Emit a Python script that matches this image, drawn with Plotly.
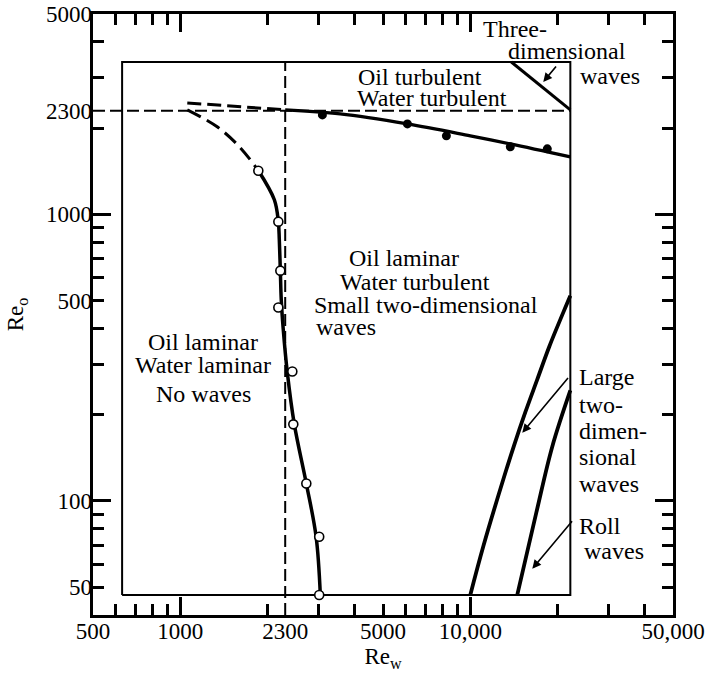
import math
import plotly.graph_objects as go

# ---------------- axis data ----------------
x_range = [500, 50000]
y_range = [40, 5000]

x_tick_vals = [500, 1000, 2300, 5000, 10000, 50000]
x_tick_text = ["500", "1000", "2300", "5000", "10,000", "50,000"]
x_major_marks = [1000, 10000]
x_minor_marks = [600, 700, 800, 900, 2000, 3000, 4000, 5000, 6000, 7000, 8000, 9000,
                 20000, 30000, 40000]

y_tick_vals = [50, 100, 500, 1000, 2300, 5000]
y_tick_text = ["50", "100", "500", "1000", "2300", "5000"]
y_major_marks = [100, 1000]
y_minor_marks = [50, 60, 70, 80, 90, 200, 300, 400, 500, 600, 700, 800, 900,
                 2000, 3000, 4000]

# ---------------- chart data ----------------
box_re_w = [630, 22130, 22130, 630, 630]
box_re_o = [47, 47, 3400, 3400, 47]

crit_re = 2300
vline_re_o = [40, 3400]
hline_re_w = [500, 22130]

# oil laminar / turbulent transition (upper curve)
oil_turb_dash_w = [1057, 2300]
oil_turb_dash_o = [2448, 2315]
oil_turb_w = [2300, 3560, 6070, 10000, 13740, 22130]
oil_turb_o = [2315, 2242, 2068, 1879, 1762, 1587]
oil_turb_pts_w = [3090, 6070, 8270, 13740, 18430]
oil_turb_pts_o = [2223, 2068, 1879, 1720, 1692]

# water laminar / turbulent transition
water_dash_w = [1057, 1340, 1600, 1860]
water_dash_o = [2315, 2020, 1720, 1420]
water_w = [1860, 2110, 2178, 2195, 2213, 2229, 2265, 2337, 2473, 2720, 2940, 3040]
water_o = [1420, 1124, 943, 816, 636, 504, 396, 283, 185, 115, 75, 47]
water_pts_w = [1858, 2178, 2213, 2178, 2434, 2453, 2720, 3013, 3013]
water_pts_o = [1419, 943, 636, 473, 283, 185, 115, 75, 47]

# three-dimensional waves boundary
three_d_w = [13850, 22130]
three_d_o = [3400, 2315]

# large two-dimensional waves boundary
large_w = [10000, 11090, 13000, 14150, 15480, 17010, 18730, 20910, 22130]
large_o = [47, 69.5, 119, 156, 204, 265, 346, 454, 520]

# roll waves boundary
roll_w = [14520, 16890, 19180, 22130]
roll_o = [47, 91, 155, 243]

# ---------------- labels ----------------
region_labels = [
    ("Oil turbulent", 6724, 3017, "center"),
    ("Water turbulent", 7396, 2549, "center"),
    ("Three-", 14300, 4450, "center"),
    ("dimensional", 21600, 3721, "center"),
    ("waves", 30390, 3041, "center"),
    ("Oil laminar", 5921, 706, "center"),
    ("Water turbulent", 6460, 582, "center"),
    ("Small two-dimensional", 7052, 484, "center"),
    ("waves", 3737, 403, "center"),
    ("Oil laminar", 1200, 360, "center"),
    ("Water laminar", 1200, 299, "center"),
    ("No waves", 1205, 237, "center"),
    ("Large", 23390, 270, "left"),
    ("two-", 23390, 217, "left"),
    ("dimen-", 23390, 176, "left"),
    ("sional", 23390, 142, "left"),
    ("waves", 23390, 115, "left"),
    ("Roll", 23390, 82, "left"),
    ("waves", 24200, 66.7, "left"),
]

# arrows: (tail_w, tail_o, head_w, head_o)
arrows = [
    (19950, 3322, 17850, 2898),
    (21940, 272, 15110, 173),
    (22660, 86, 16360, 58),
]

FONT = "Liberation Serif"
L = math.log10

fig = go.Figure()

def line(xs, ys, width, dash="solid", shape="linear"):
    fig.add_trace(go.Scatter(x=xs, y=ys, mode="lines",
                             line=dict(color="black", width=width, dash=dash, shape=shape),
                             hoverinfo="skip", showlegend=False))

line(box_re_w, box_re_o, 2)
line([crit_re, crit_re], vline_re_o, 2, dash="12px,5px")
line(hline_re_w, [crit_re, crit_re], 2, dash="12px,5px")
line(oil_turb_dash_w, oil_turb_dash_o, 3, dash="14px,6px")
line(oil_turb_w, oil_turb_o, 3.2, shape="spline")
line(water_dash_w, water_dash_o, 3, dash="15px,7px", shape="spline")
line(water_w, water_o, 3.5, shape="spline")
line(three_d_w, three_d_o, 3)
line(large_w, large_o, 3.8, shape="spline")
line(roll_w, roll_o, 3.8, shape="spline")

fig.add_trace(go.Scatter(x=water_pts_w, y=water_pts_o, mode="markers",
                         marker=dict(symbol="circle", size=9, color="white",
                                     line=dict(color="black", width=1.6)),
                         hoverinfo="skip", showlegend=False))
fig.add_trace(go.Scatter(x=oil_turb_pts_w, y=oil_turb_pts_o, mode="markers",
                         marker=dict(symbol="circle", size=9, color="black"),
                         hoverinfo="skip", showlegend=False))

# invisible trace on label axes
fig.add_trace(go.Scatter(x=[x_tick_vals[1]], y=[y_tick_vals[1]], mode="markers",
                         marker=dict(opacity=0), xaxis="x2", yaxis="y2",
                         hoverinfo="skip", showlegend=False))

annotations = []
for text, xw, yo, align in region_labels:
    annotations.append(dict(x=L(xw), y=L(yo), xref="x", yref="y", text=text,
                            showarrow=False, xanchor=align, yanchor="middle",
                            font=dict(family=FONT, size=24, color="black")))
for tw, to, hw, ho in arrows:
    annotations.append(dict(x=L(hw), y=L(ho), ax=L(tw), ay=L(to), xref="x", yref="y",
                            axref="x", ayref="y", text="", showarrow=True,
                            arrowhead=2, arrowsize=1.1, arrowwidth=1.6,
                            arrowcolor="black", standoff=0, startstandoff=0))

xr = [L(x_range[0]), L(x_range[1])]
yr = [L(y_range[0]), L(y_range[1])]

fig.update_layout(
    width=707, height=676,
    margin=dict(l=93, r=34, t=14, b=61, autoexpand=False),
    paper_bgcolor="white", plot_bgcolor="white",
    font=dict(family=FONT, size=23, color="black"),
    showlegend=False,
    annotations=annotations,
    xaxis=dict(type="log", range=xr, showgrid=False, zeroline=False,
               showline=True, linecolor="black", linewidth=3, mirror="ticks",
               tickmode="array", tickvals=x_major_marks, showticklabels=False,
               ticks="inside", ticklen=18, tickwidth=2.5, tickcolor="black",
               minor=dict(tickmode="array", tickvals=x_minor_marks, ticks="inside",
                          ticklen=11, tickwidth=2.5, tickcolor="black", showgrid=False)),
    yaxis=dict(type="log", range=yr, showgrid=False, zeroline=False,
               showline=True, linecolor="black", linewidth=3, mirror="ticks",
               tickmode="array", tickvals=y_major_marks, showticklabels=False,
               ticks="inside", ticklen=18, tickwidth=2.5, tickcolor="black",
               minor=dict(tickmode="array", tickvals=y_minor_marks, ticks="inside",
                          ticklen=11, tickwidth=2.5, tickcolor="black", showgrid=False)),
    xaxis2=dict(type="log", range=xr, overlaying="x", anchor="y2", side="bottom",
                showgrid=False, zeroline=False, showline=False, ticks="",
                tickmode="array", tickvals=x_tick_vals, ticktext=x_tick_text,
                tickfont=dict(family=FONT, size=23),
                title=dict(text="Re<sub>w</sub>", standoff=0,
                           font=dict(family=FONT, size=23))),
    yaxis2=dict(type="log", range=yr, overlaying="y", anchor="x2", side="left",
                showgrid=False, zeroline=False, showline=False, ticks="",
                tickmode="array", tickvals=y_tick_vals, ticktext=y_tick_text,
                tickfont=dict(family=FONT, size=23),
                title=dict(text="Re<sub>o</sub>", standoff=15,
                           font=dict(family=FONT, size=23))),
)

fig.write_html("out.html", config={"displayModeBar": False},
               post_script="document.body.style.margin='0';document.body.style.overflow='hidden';")
